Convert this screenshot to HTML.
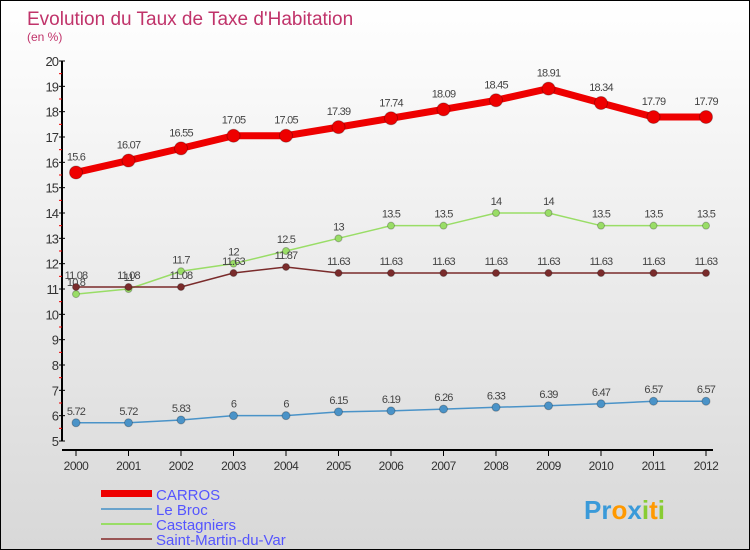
<!DOCTYPE html>
<html><head><meta charset="utf-8"><style>
body{margin:0}
#c{position:relative;width:748px;height:548px;border:1px solid #000;background:linear-gradient(#fff,#f3f3f3 30%,#d8d8d8);font-family:"Liberation Sans",sans-serif;overflow:hidden}
</style></head><body>
<div id="c">
<svg width="748" height="548" id="s">
<text x="26" y="24" font-size="19" fill="#c0336a">Evolution du Taux de Taxe d'Habitation</text>
<text x="26" y="40" font-size="12" fill="#c0336a">(en %)</text>
<g id="axes"></g><g id="series"></g>
<g>
<rect x="100" y="489" width="51" height="7" fill="#e00"/>
<text x="155" y="499" font-size="15" fill="#55f">CARROS</text>
<rect x="100" y="507" width="51" height="2" fill="#6aa3cc"/>
<text x="155" y="514" font-size="15" fill="#55f">Le Broc</text>
<rect x="100" y="522" width="51" height="2" fill="#9d6"/>
<text x="155" y="529" font-size="15" fill="#55f">Castagniers</text>
<rect x="100" y="537" width="51" height="2" fill="#955"/>
<text x="155" y="544" font-size="15" fill="#55f">Saint-Martin-du-Var</text>
</g>
<text x="583" y="518" font-size="26" font-weight="bold" fill="#3a9ad9">Pr<tspan fill="#f90">o</tspan><tspan fill="#3a9ad9">x</tspan><tspan fill="#8c3">i</tspan><tspan fill="#f90">t</tspan><tspan fill="#8c3">i</tspan></text>
</svg></div>
<script>
const years=[2000,2001,2002,2003,2004,2005,2006,2007,2008,2009,2010,2011,2012];
const carros=[15.6,16.07,16.55,17.05,17.05,17.39,17.74,18.09,18.45,18.91,18.34,17.79,17.79];
const leBroc=[5.72,5.72,5.83,6,6,6.15,6.19,6.26,6.33,6.39,6.47,6.57,6.57];
const castagniers=[10.8,11,11.7,12,12.5,13,13.5,13.5,14,14,13.5,13.5,13.5];
const smv=[11.08,11.08,11.08,11.63,11.87,11.63,11.63,11.63,11.63,11.63,11.63,11.63,11.63];
const yTicks=[5,6,7,8,9,10,11,12,13,14,15,16,17,18,19,20];
const NS="http://www.w3.org/2000/svg";
const X=i=>75+i*52.5, Y=v=>60+(20-v)*380/15;
function mk(t,a,p){const e=document.createElementNS(NS,t);for(const k in a)e.setAttribute(k,a[k]);p.appendChild(e);return e;}
const ax=document.getElementById('axes'),sg=document.getElementById('series');
let e=mk('line',{x1:61,y1:60,x2:61,y2:440,stroke:'#000','stroke-width':2},ax);


e=mk('line',{x1:61,y1:449,x2:712,y2:449,stroke:'#000','stroke-width':2},ax);


yTicks.forEach(v=>{mk('line',{x1:58,x2:64,y1:Y(v),y2:Y(v),stroke:'#000'},ax);
 if(v<20)mk('line',{x1:58,x2:61,y1:Y(v+0.5),y2:Y(v+0.5),stroke:'#e00'},ax);
 const t=mk('text',{x:57,y:Y(v)+5,'font-size':13,fill:'#333','text-anchor':'end','letter-spacing':'-1'},ax);t.textContent=v;
 
 });
years.forEach((y,i)=>{mk('line',{x1:X(i),x2:X(i),y1:449,y2:455,stroke:'#000'},ax);
 const t=mk('text',{x:X(i),y:469,'font-size':12,fill:'#333','text-anchor':'middle','letter-spacing':'-0.5'},ax);t.textContent=y;
 
 });
function series(d,name,col,w,r,dy){const g=mk('g',{},sg);
 
 
 mk('polyline',{points:d.map((v,i)=>X(i)+','+Y(v)).join(' '),fill:'none',stroke:col,'stroke-width':w},g);
 d.forEach((v,i)=>{const c=mk('circle',{cx:X(i),cy:Y(v),r:r,fill:col,stroke:'rgba(0,0,0,0.25)'},g);
  
  
  const t=mk('text',{x:X(i),y:Y(v)-dy,'font-size':11,fill:'#444','text-anchor':'middle','letter-spacing':'-0.8'},g);t.textContent=v;
  
  });}
series(castagniers,'castagniers','#9d6',1.5,3.5,8);
series(smv,'saint-martin','#7a2b2b',1.5,3.5,8);
series(leBroc,'le-broc','#4a93c8',1.5,4,8);
series(carros,'carros','#e00',7,6.5,12);
</script></body></html>
